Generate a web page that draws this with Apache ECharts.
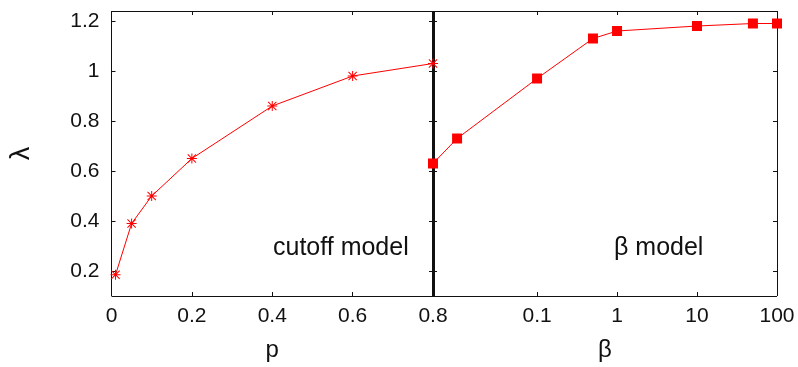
<!DOCTYPE html>
<html>
<head>
    <meta charset="utf-8">
    <title>lambda vs p / beta</title>
    <script src="https://cdn.jsdelivr.net/npm/echarts@6/dist/echarts.min.js"></script>
</head>
<body style="margin:0">
    <div id="chart" style="width:798px;height:367px"></div>
<script>
    // cutoff model: lambda against p
    var pValues = [0.01, 0.05, 0.1, 0.2, 0.4, 0.6, 0.8];
    var cutoffLambda = [0.185, 0.39, 0.50, 0.65, 0.86, 0.98, 1.03];
    // beta model: lambda against beta (log axis)
    var betaValues = [0.005, 0.01, 0.1, 0.5, 1, 10, 50, 100];
    var betaLambda = [0.63, 0.73, 0.97, 1.13, 1.16, 1.18, 1.19, 1.19];

    var betaTicks = [0.1, 1, 10, 100];
    var lambdaTicks = [0.2, 0.4, 0.6, 0.8, 1, 1.2];

    var font = 'Liberation Sans';
    var ink = '#111';
    var red = '#ff0000';
    var asterisk = 'path://M0 9L20 9L20 11L0 11Z M9 0L11 0L11 20L9 20Z M2.4 1L19 17.6L17.6 19L1 2.4Z M17.6 1L19 2.4L2.4 19L1 17.6Z';

    var chart = echarts.init(document.getElementById('chart'));

    function frameLine(width) {
        return {show: true, onZero: false, lineStyle: {color: ink, width: width || 1, cap: 'butt'}};
    }
    var innerTick = {show: true, inside: true, length: 4, lineStyle: {color: ink}};

    // y axis: 0 left labels, 1 right of left panel, 2 separator, 3 right border
    function yAxis(grid, pos, opts) {
        var a = {
            type: 'value', gridIndex: grid, position: pos,
            min: 0.1, max: 1.24,
            axisLine: frameLine(opts.lineWidth),
            axisTick: {show: true, inside: true, length: 4, lineStyle: {color: ink}, customValues: lambdaTicks},
            axisLabel: {show: !!opts.labels, customValues: lambdaTicks, margin: 12,
                color: ink, fontFamily: font, fontSize: 21},
            splitLine: {show: false}
        };
        if (opts.labels) {
            a.name = 'λ';
            a.nameLocation = 'middle';
            a.nameRotate = 90;
            a.nameGap = 76;
            a.nameTextStyle = {color: ink, fontFamily: font, fontSize: 27};
        }
        return a;
    }

    var option = {
        animation: false,
        backgroundColor: '#fff',
        grid: [
            {left: 111.5, right: 365, top: 11, bottom: 69.5},
            {left: 433, right: 21, top: 11, bottom: 69.5}
        ],
        xAxis: [
            {
                type: 'value', gridIndex: 0, position: 'bottom',
                min: 0, max: 0.8, interval: 0.2,
                name: 'p', nameLocation: 'middle', nameGap: 42,
                nameTextStyle: {color: ink, fontFamily: font, fontSize: 24},
                axisLine: frameLine(), axisTick: innerTick,
                axisLabel: {color: ink, fontFamily: font, fontSize: 21, margin: 10},
                splitLine: {show: false}
            },
            {
                type: 'value', gridIndex: 0, position: 'top',
                min: 0, max: 0.8, interval: 0.2,
                axisLine: frameLine(), axisTick: innerTick,
                axisLabel: {show: false}, splitLine: {show: false}
            },
            {
                type: 'log', logBase: 10, gridIndex: 1, position: 'bottom',
                min: 0.005, max: 100,
                name: 'β', nameLocation: 'middle', nameGap: 42,
                nameTextStyle: {color: ink, fontFamily: font, fontSize: 24},
                axisLine: frameLine(),
                axisTick: {show: true, inside: true, length: 4, lineStyle: {color: ink}, customValues: betaTicks},
                minorTick: {show: false},
                axisLabel: {color: ink, fontFamily: font, fontSize: 21, margin: 10, customValues: betaTicks},
                splitLine: {show: false}
            },
            {
                type: 'log', logBase: 10, gridIndex: 1, position: 'top',
                min: 0.005, max: 100,
                axisLine: frameLine(),
                axisTick: {show: true, inside: true, length: 4, lineStyle: {color: ink}, customValues: betaTicks},
                axisLabel: {show: false}, splitLine: {show: false}
            }
        ],
        yAxis: [
            yAxis(0, 'left', {labels: true}),
            yAxis(0, 'right', {}),
            yAxis(1, 'left', {lineWidth: 3}),
            yAxis(1, 'right', {})
        ],
        graphic: [
            {type: 'text', left: 273, top: 236, z: 10,
                style: {text: 'cutoff model', fill: ink, font: '25px "Liberation Sans"'}},
            {type: 'text', left: 614, top: 236, z: 10,
                style: {text: 'β model', fill: ink, font: '25px "Liberation Sans"'}}
        ],
        series: [
            {
                name: 'cutoff model', type: 'line', xAxisIndex: 0, yAxisIndex: 0,
                data: pValues.map(function (p, i) { return [p, cutoffLambda[i]]; }),
                symbol: asterisk, symbolSize: 10, clip: false, z: 5,
                lineStyle: {color: red, width: 1}, itemStyle: {color: red}
            },
            {
                name: 'β model', type: 'line', xAxisIndex: 2, yAxisIndex: 2,
                data: betaValues.map(function (b, i) { return [b, betaLambda[i]]; }),
                symbol: 'rect', symbolSize: 10, clip: false, z: 5,
                lineStyle: {color: red, width: 1}, itemStyle: {color: red}
            }
        ]
    };
    chart.setOption(option);
</script>
</body>
</html>
